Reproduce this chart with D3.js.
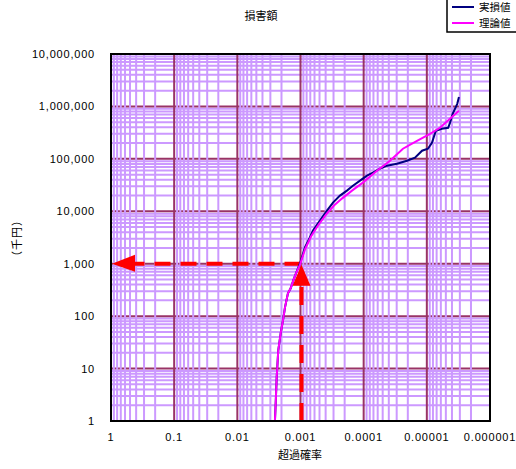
<!DOCTYPE html>
<html>
<head>
<meta charset="utf-8">
<script src="https://cdn.jsdelivr.net/npm/d3@7"></script>
<style>
  body { margin: 0; background: #fff; }
  text { fill: #000; }
</style>
</head>
<body>
<div id="chart"></div>
<script>
// axis ticks
const probTicks = [1, 0.1, 0.01, 0.001, 0.0001, 0.00001, 0.000001];
const probLabels = ['1', '0.1', '0.01', '0.001', '0.0001', '0.00001', '0.000001'];
const lossTicks = [1, 10, 100, 1000, 10000, 100000, 1000000, 10000000];
const lossLabels = ['1', '10', '100', '1,000', '10,000', '100,000', '1,000,000', '10,000,000'];

// 実損値 (empirical)
const actualProb = [0.00254, 0.00247, 0.00238, 0.00225, 0.00206, 0.00187, 0.00176, 0.00158, 0.00143, 0.0013,
  0.00118, 0.00102, 0.00085, 0.00071, 0.000634, 0.000492, 0.000381, 0.000306, 0.000237, 0.000184,
  0.000148, 0.000114, 0.0000886, 0.0000712, 0.0000552, 0.0000427, 0.0000297, 0.0000206, 0.0000154, 0.0000119,
  0.0000096, 0.0000083, 0.0000072, 0.0000058, 0.0000046, 0.0000043, 0.0000039, 0.0000033, 0.0000031];
const actualLoss = [1, 2.2, 6.9, 22, 47, 91, 147, 272, 339, 481,
  653, 1010, 2040, 3160, 4300, 6660, 10300, 14650, 19900, 24800,
  30800, 38400, 47800, 54500, 65000, 74100, 80900, 92200, 105000, 143000,
  156000, 203000, 343000, 375000, 392000, 487000, 722000, 1120000, 1520000];

// 理論値 (theoretical)
const theoryProb = [0.00254, 0.00247, 0.00238, 0.00225, 0.00206, 0.00187, 0.00176, 0.00158, 0.00143, 0.0013,
  0.00118, 0.00102, 0.00085, 0.000682, 0.000529, 0.000395, 0.000295, 0.000221, 0.000153, 0.000103,
  0.0000615, 0.0000383, 0.0000239, 0.0000143, 0.0000089, 0.0000062, 0.0000043, 0.0000031];
const theoryLoss = [1, 2.2, 6.9, 22, 47, 91, 147, 272, 339, 481,
  653, 950, 1870, 3300, 5350, 8660, 12850, 17460, 24800, 35200,
  59500, 92200, 156000, 221000, 301000, 392000, 581000, 824000];

// reading guide
const readProb = 0.001;
const readLoss = 1000;

const width = 516;
const height = 469;
const margin = {top: 54, right: 26, bottom: 48, left: 111};

const svg = d3.select('#chart')
    .append('svg')
    .attr('width', width)
    .attr('height', height);

const x = d3.scaleLog().domain([1, 0.000001]).range([margin.left, width - margin.right]);
const y = d3.scaleLog().domain([1, 10000000]).range([height - margin.bottom, margin.top]);

const minorX = [];
const minorY = [];
probTicks.slice(0, -1).forEach(p => {
  for (let k = 2; k <= 9; k++) minorX.push(p * k / 10);
});
lossTicks.slice(0, -1).forEach(v => {
  for (let k = 2; k <= 9; k++) minorY.push(v * k);
});

const grid = svg.append('g');
const [x0, x1] = x.range();
const [y0, y1] = y.range();

grid.selectAll('.hmin').data(minorY).enter().append('line')
    .attr('x1', x0).attr('x2', x1)
    .attr('y1', d => y(d)).attr('y2', d => y(d))
    .attr('stroke', '#cc99ff').attr('stroke-width', 2);

grid.selectAll('.hmaj').data(lossTicks).enter().append('line')
    .attr('x1', x0).attr('x2', x1)
    .attr('y1', d => y(d)).attr('y2', d => y(d))
    .attr('stroke', '#993366').attr('stroke-width', 2);

grid.selectAll('.vmin').data(minorX).enter().append('line')
    .attr('y1', y0).attr('y2', y1)
    .attr('x1', d => x(d)).attr('x2', d => x(d))
    .attr('stroke', '#cc99ff').attr('stroke-width', 2);

grid.selectAll('.vmaj').data(probTicks).enter().append('line')
    .attr('y1', y0).attr('y2', y1)
    .attr('x1', d => x(d)).attr('x2', d => x(d))
    .attr('stroke', '#993366').attr('stroke-width', 2);

// reading guide arrows
const red = '#ff0000';
svg.append('line')
    .attr('x1', x(readProb)).attr('x2', x(1) + 20)
    .attr('y1', y(readLoss)).attr('y2', y(readLoss))
    .attr('stroke', red).attr('stroke-width', 4)
    .attr('stroke-dasharray', '16,10');
svg.append('path')
    .attr('d', `M${x(1) + 1},${y(readLoss)} L${x(1) + 24},${y(readLoss) - 9} L${x(1) + 24},${y(readLoss) + 8} Z`)
    .attr('fill', red);

svg.append('line')
    .attr('x1', x(readProb) + 1).attr('x2', x(readProb) + 1)
    .attr('y1', y(1)).attr('y2', y(readLoss) + 20)
    .attr('stroke', red).attr('stroke-width', 4)
    .attr('stroke-dasharray', '18,11');
svg.append('path')
    .attr('d', `M${x(readProb) + 1},${y(readLoss) + 1} L${x(readProb) + 10},${y(readLoss) + 22} L${x(readProb) - 8},${y(readLoss) + 22} Z`)
    .attr('fill', red);

// series
const line = d3.line()
    .x(d => x(d[0]))
    .y(d => y(d[1]));

svg.append('path')
    .datum(d3.zip(actualProb, actualLoss))
    .attr('d', line)
    .attr('fill', 'none')
    .attr('stroke', '#000080')
    .attr('stroke-width', 2);

svg.append('path')
    .datum(d3.zip(theoryProb, theoryLoss))
    .attr('d', line)
    .attr('fill', 'none')
    .attr('stroke', '#ff00ff')
    .attr('stroke-width', 2);

// plot frame
svg.append('rect')
    .attr('x', x0).attr('y', y1)
    .attr('width', x1 - x0).attr('height', y0 - y1)
    .attr('fill', 'none')
    .attr('stroke', '#000')
    .attr('stroke-width', 2);

// tick labels
const numFont = "'Liberation Sans', Arial, sans-serif";
svg.append('g').selectAll('text')
    .data(lossTicks).enter().append('text')
    .attr('x', 95)
    .attr('y', d => y(d) + 4)
    .attr('text-anchor', 'end')
    .attr('font-family', numFont)
    .attr('font-size', '11px')
    .attr('letter-spacing', '0.8px')
    .text((d, i) => lossLabels[i]);

svg.append('g').selectAll('text')
    .data(probTicks).enter().append('text')
    .attr('x', d => x(d))
    .attr('y', 441)
    .attr('text-anchor', 'middle')
    .attr('font-family', numFont)
    .attr('font-size', '11px')
    .attr('letter-spacing', '0.8px')
    .text((d, i) => probLabels[i]);

// titles
const jpFont = "'Noto Sans CJK JP', sans-serif";
svg.append('text')
    .attr('x', 261).attr('y', 20)
    .attr('text-anchor', 'middle')
    .attr('font-family', jpFont)
    .attr('font-size', '11px')
    .text('損害額');

svg.append('text')
    .attr('x', 300).attr('y', 459)
    .attr('text-anchor', 'middle')
    .attr('font-family', jpFont)
    .attr('font-size', '11px')
    .text('超過確率');

svg.append('text')
    .attr('transform', 'translate(21,238) rotate(-90)')
    .attr('text-anchor', 'middle')
    .attr('font-family', jpFont)
    .attr('font-size', '11px')
    .attr('letter-spacing', '1px')
    .text('（千円）');

// legend
const legend = svg.append('g');
legend.append('rect')
    .attr('x', 447).attr('y', -2)
    .attr('width', 80).attr('height', 34)
    .attr('fill', '#fff')
    .attr('stroke', '#000')
    .attr('stroke-width', 1.5);

const legendItems = legend.selectAll('.item')
    .data([['実損値', '#000080'], ['理論値', '#ff00ff']])
    .enter().append('g')
    .attr('transform', (d, i) => `translate(0,${7 + i * 16})`);

legendItems.append('line')
    .attr('x1', 452).attr('x2', 474)
    .attr('y1', 0).attr('y2', 0)
    .attr('stroke', d => d[1])
    .attr('stroke-width', 2);

legendItems.append('text')
    .attr('x', 479).attr('y', 4)
    .attr('font-family', jpFont)
    .attr('font-size', '10.5px')
    .text(d => d[0]);
</script>
</body>
</html>
